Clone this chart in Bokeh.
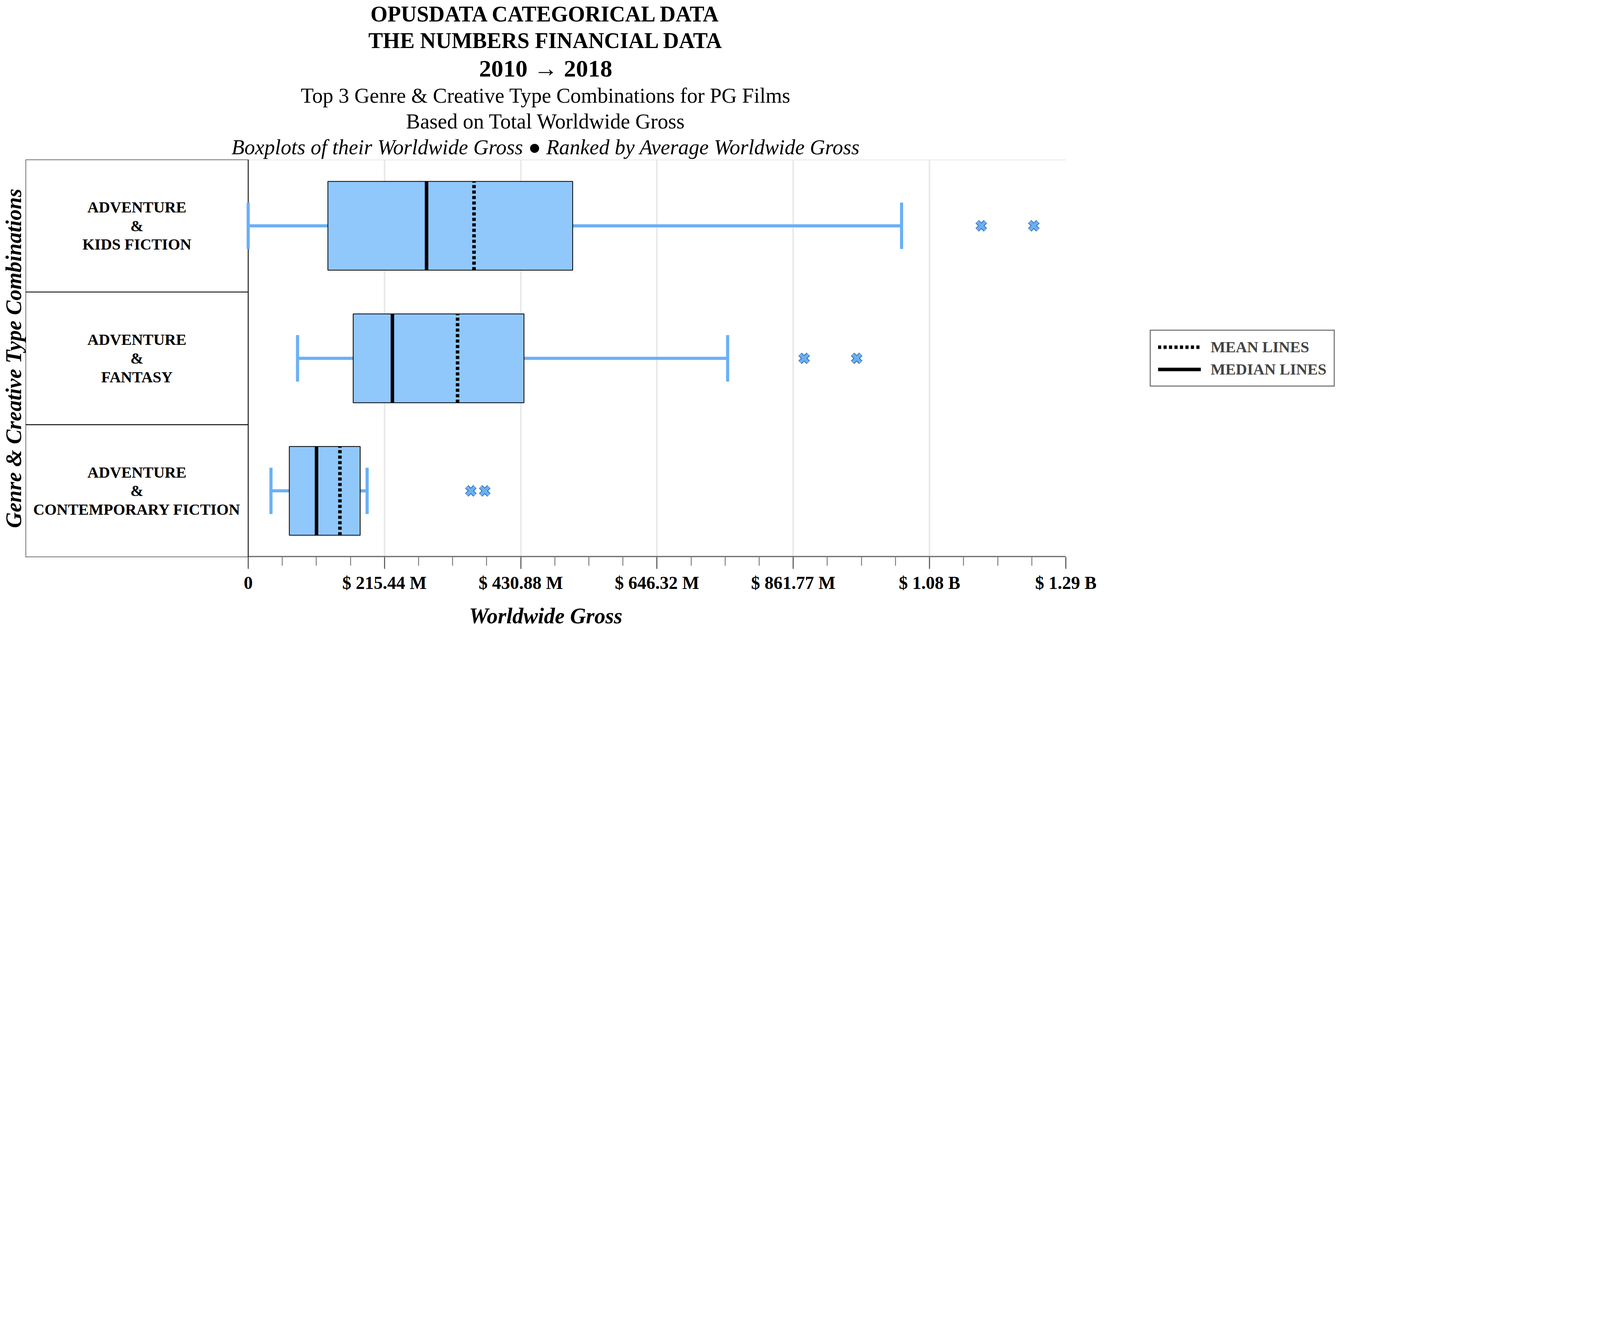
from bokeh.plotting import figure
from bokeh.models import (FixedTicker, CustomJSTickFormatter, Title, Legend, LegendItem, Range1d)
from bokeh.embed import file_html
from bokeh.resources import INLINE
from bokeh.core.properties import value

cats1 = ["ADVENTURE", "ADVENTURE", "ADVENTURE"]
cats3 = ["KIDS FICTION", "FANTASY", "CONTEMPORARY FICTION"]
low = [0, 78, 36]
q1 = [126, 166, 65]
med = [282, 228, 108]
mean = [357, 331, 145]
q3 = [513, 436, 177]
high = [1033, 758, 188]
outliers = [[1159, 1242], [879, 962], [352, 374]]
ticks = [0, 215.44, 430.88, 646.32, 861.77, 1077.21, 1292.65]

XMAX = 1292.65
L = XMAX * 1140 / 4187
ys = [2.5, 1.5, 0.5]
FONT = "Liberation Serif"
BOX = "#90c8fc"
WH = "#6ab0f5"

p = figure(frame_width=2663, frame_height=1018, output_backend="svg", toolbar_location=None,
           x_range=Range1d(-L, XMAX), y_range=Range1d(0, 3), min_border_left=10)
p.outline_line_color = None
p.background_fill_color = "white"

minor = [i * 215.44 / 4 for i in range(25)]
p.xaxis.ticker = FixedTicker(ticks=ticks, minor_ticks=minor)
p.xgrid.ticker = FixedTicker(ticks=ticks)
p.xgrid.grid_line_color = "#e8e8e8"
p.xgrid.grid_line_width = 4
p.ygrid.visible = False
p.xaxis.formatter = CustomJSTickFormatter(code="""
if (tick < 1) return '0';
if (tick >= 1000) return '$ ' + (tick/1000).toFixed(2) + ' B';
return '$ ' + tick.toFixed(2) + ' M';
""")
p.xaxis.axis_line_color = None
p.xaxis.major_tick_line_color = "#666666"
p.xaxis.minor_tick_line_color = "#666666"
p.xaxis.major_tick_line_width = 3
p.xaxis.minor_tick_line_width = 2
p.xaxis.major_tick_out = 30
p.xaxis.minor_tick_out = 22
p.xaxis.major_tick_in = 0
p.xaxis.minor_tick_in = 0
p.xaxis.major_label_text_font = FONT
p.xaxis.major_label_text_font_style = "bold"
p.xaxis.major_label_text_font_size = "46px"
p.xaxis.major_label_text_color = "black"
p.xaxis.major_label_standoff = 10
p.xaxis.axis_label = "Worldwide Gross"
p.xaxis.axis_label_text_font = FONT
p.xaxis.axis_label_text_font_style = "bold italic"
p.xaxis.axis_label_text_font_size = "56px"
p.xaxis.axis_label_text_color = "black"
p.xaxis.axis_label_standoff = 25

p.yaxis.axis_label = "Genre & Creative Type Combinations"
p.yaxis.axis_label_text_font = FONT
p.yaxis.axis_label_text_font_style = "bold italic"
p.yaxis.axis_label_text_font_size = "56px"
p.yaxis.axis_label_text_color = "black"
p.yaxis.major_label_text_font_size = "0px"
p.yaxis.major_tick_line_color = None
p.yaxis.minor_tick_line_color = None
p.yaxis.axis_line_color = None
p.yaxis.axis_label_standoff = 0
p.yaxis.ticker = FixedTicker(ticks=[])

p.segment(x0=[0], y0=[3], x1=[XMAX], y1=[3], line_color="#e8e8e8", line_width=4)
p.segment(x0=[0], y0=[0], x1=[XMAX], y1=[0], line_color="#666666", line_width=6)

p.quad(left=[-L]*3, right=[0]*3, bottom=[0, 1, 2], top=[1, 2, 3], fill_color="white",
       line_color="#222222", line_width=2.5)
for i, y in enumerate(ys):
    for dy, t in zip([0.14, 0, -0.14], [cats1[i], "&", cats3[i]]):
        p.text(x=[-L / 2], y=[y + dy], text=[t], text_align="center", text_baseline="middle",
               text_font=value(FONT), text_font_style="bold", text_font_size="40px")

h = 0.335
p.segment(x0=low, y0=ys, x1=q1, y1=ys, line_color=WH, line_width=8)
p.segment(x0=q3, y0=ys, x1=high, y1=ys, line_color=WH, line_width=8)
cap = 0.175
p.segment(x0=low, y0=[y - cap for y in ys], x1=low, y1=[y + cap for y in ys], line_color=WH, line_width=8)
p.segment(x0=high, y0=[y - cap for y in ys], x1=high, y1=[y + cap for y in ys], line_color=WH, line_width=8)
p.quad(left=q1, right=q3, bottom=[y - h for y in ys], top=[y + h for y in ys],
       fill_color=BOX, line_color="black", line_width=2)
r_med = p.segment(x0=med, y0=[y - h for y in ys], x1=med, y1=[y + h for y in ys],
                  line_color="black", line_width=9)
r_mean = p.segment(x0=mean, y0=[y - h for y in ys], x1=mean, y1=[y + h for y in ys],
                   line_color="black", line_width=9, line_dash="8 6")
ox, oy = [], []
for i, o in enumerate(outliers):
    for v in o:
        ox.append(v)
        oy.append(ys[i])
p.scatter(ox, oy, marker="x", size=30, line_color="#3a6fa8", line_width=12)
p.scatter(ox, oy, marker="x", size=29, line_color=WH, line_width=8)

leg = Legend(items=[LegendItem(label="MEAN LINES", renderers=[r_mean]),
                    LegendItem(label="MEDIAN LINES", renderers=[r_med])],
             location="center", border_line_color="black", border_line_width=3,
             label_text_font=FONT, label_text_font_style="bold", label_text_font_size="40px",
             glyph_width=110, glyph_height=45, label_standoff=25, padding=18, spacing=10,
             margin=20)
p.add_layout(leg, "right")

titles = [
    ("Boxplots of their Worldwide Gross \u25cf Ranked by Average Worldwide Gross", "italic", "54px"),
    ("Based on Total Worldwide Gross", "normal", "54px"),
    ("Top 3 Genre & Creative Type Combinations for PG Films", "normal", "54px"),
    ("2010 \u2192 2018", "bold", "62px"),
    ("THE NUMBERS FINANCIAL DATA", "bold", "56px"),
    ("OPUSDATA CATEGORICAL DATA", "bold", "56px"),
]
for t, st, sz in titles:
    p.add_layout(Title(text=t, align="center", text_font=FONT, text_font_style=st,
                       text_font_size=sz, text_color="black", standoff=4), "above")

open("out.html", "w").write(file_html(p, INLINE))
